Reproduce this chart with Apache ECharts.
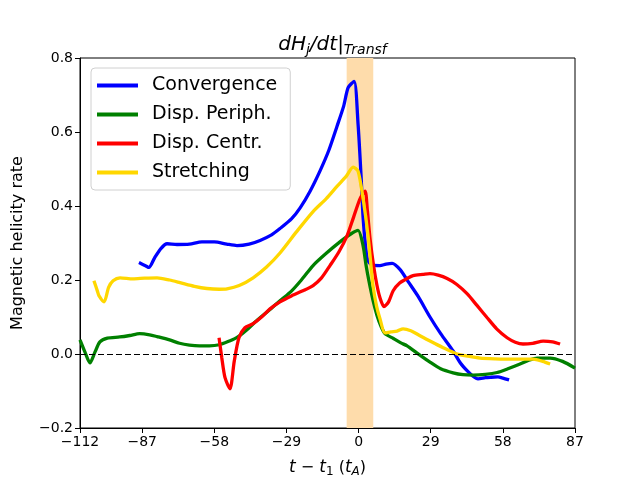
<!DOCTYPE html>
<html>
<head>
<meta charset="utf-8">
<title>dHj/dt Transf</title>
<script src="https://cdn.jsdelivr.net/npm/echarts@6/dist/echarts.min.js"></script>
<style>
  html, body { margin: 0; padding: 0; background: #fff; }
  #chart { width: 640px; height: 480px; }
</style>
</head>
<body>
<div id="chart"></div>
<script>
// tick labels
var xTicks = [-112, -87, -58, -29, 0, 29, 58, 87];
var band = [-4.8, 5.9];

// Convergence
var convT = [-88.3, -85.5, -84.3, -82, -79.5, -77, -73, -68, -63, -58, -53, -48.9, -44, -39.6, -35, -31.6, -27, -23.5, -19.5, -15.5, -12, -8.7, -6, -4.2, -1.8, -0.2, 1.0, 1.8, 2.8, 3.6, 5.5, 8.6, 11, 13.5, 16.7, 20, 24, 28.7, 33, 38, 41, 43.6, 46, 48, 51, 52.9, 56, 58, 60.5];
var convV = [0.247, 0.238, 0.234, 0.26, 0.285, 0.298, 0.296, 0.297, 0.303, 0.303, 0.297, 0.293, 0.297, 0.307, 0.322, 0.339, 0.365, 0.395, 0.44, 0.495, 0.55, 0.615, 0.67, 0.72, 0.737, 0.62, 0.48, 0.37, 0.29, 0.255, 0.24, 0.239, 0.243, 0.245, 0.228, 0.195, 0.155, 0.10, 0.055, 0.008, -0.025, -0.045, -0.06, -0.067, -0.064, -0.063, -0.062, -0.065, -0.07];

// Disp. Periph.
var perT = [-112, -110, -108, -106, -104, -101, -96, -92, -88, -84, -81, -76, -72, -68, -64, -60, -56, -52, -49, -45, -41, -36, -31.6, -27, -23, -18.3, -13, -7.5, -3, -0.2, 1.8, 3, 4.2, 5.8, 7.4, 9, 10.6, 14, 17, 19.5, 23, 28.7, 33, 38, 42, 46, 51, 55.7, 60, 64.9, 68, 71.8, 77, 82, 87];
var perV = [0.038, 0.005, -0.024, 0.005, 0.033, 0.043, 0.046, 0.05, 0.055, 0.052, 0.047, 0.038, 0.029, 0.024, 0.022, 0.022, 0.025, 0.035, 0.044, 0.065, 0.09, 0.118, 0.144, 0.17, 0.2, 0.239, 0.272, 0.303, 0.325, 0.334, 0.293, 0.24, 0.196, 0.145, 0.104, 0.075, 0.055, 0.042, 0.03, 0.022, 0.005, -0.022, -0.04, -0.051, -0.056, -0.057, -0.055, -0.05, -0.04, -0.027, -0.018, -0.011, -0.011, -0.02, -0.038];

// Disp. Centr.
var cenT = [-56.1, -55, -53.7, -51.7, -50, -48.1, -45.7, -42.4, -39, -35.6, -31.6, -27, -22, -18.3, -15, -11.5, -8, -4.6, -2, 0.6, 2.6, 3.5, 4.6, 6, 7.4, 8.6, 10.2, 12, 13.9, 16.5, 19.5, 21.9, 25.9, 28.7, 32, 35.6, 39.5, 43.6, 47.5, 51.7, 55.5, 59.7, 63, 66.1, 70, 74.2, 78, 81];
var cenV = [0.044, -0.01, -0.064, -0.094, -0.02, 0.044, 0.071, 0.082, 0.1, 0.122, 0.141, 0.157, 0.172, 0.185, 0.205, 0.239, 0.275, 0.32, 0.37, 0.42, 0.44, 0.39, 0.312, 0.24, 0.185, 0.152, 0.128, 0.14, 0.171, 0.192, 0.204, 0.212, 0.215, 0.217, 0.213, 0.204, 0.188, 0.163, 0.132, 0.098, 0.068, 0.044, 0.032, 0.027, 0.029, 0.035, 0.033, 0.027];

// Stretching
var strT = [-106.4, -105, -104.4, -102.3, -100.5, -98.7, -95.9, -90.7, -86, -81, -76, -71.8, -66, -61, -56, -52.9, -48, -42.4, -37, -31.6, -25, -18.3, -13, -8.7, -5, -2.2, -0.2, 1.8, 3.8, 5.8, 7.2, 8.6, 10.6, 13, 15.5, 17.9, 21, 24, 28.7, 34, 39.6, 44, 48.8, 55, 62.1, 70.2, 74, 77];
var strV = [0.198, 0.17, 0.158, 0.141, 0.18, 0.198, 0.206, 0.203, 0.205, 0.206, 0.2, 0.193, 0.183, 0.177, 0.175, 0.176, 0.185, 0.206, 0.235, 0.273, 0.33, 0.385, 0.42, 0.453, 0.48, 0.505, 0.494, 0.42, 0.32, 0.185, 0.13, 0.095, 0.057, 0.06, 0.062, 0.068, 0.063, 0.052, 0.035, 0.017, 0.0, -0.006, -0.011, -0.013, -0.014, -0.014, -0.02, -0.027];

function pairs(t, v) {
  return t.map(function (x, i) { return [x, v[i]]; });
}
function minus(s) {
  return String(s).replace('-', '\u2212');
}

var font = 'DejaVu Sans';
var chart = echarts.init(document.getElementById('chart'));

function line(name, color, t, v) {
  return {
    name: name,
    type: 'line',
    data: pairs(t, v),
    showSymbol: false,
    symbol: 'none',
    smooth: 0.25,
    lineStyle: { color: color, width: 3.3 },
    itemStyle: { color: color },
    animation: false
  };
}

var series = [
  line('Convergence', '#0000ff', convT, convV),
  line('Disp. Periph.', '#008000', perT, perV),
  line('Disp. Centr.', '#ff0000', cenT, cenV),
  line('Stretching', '#ffd700', strT, strV)
];
series[0].markArea = {
  silent: true,
  itemStyle: { color: '#fedcab' },
  data: [[{ xAxis: band[0] }, { xAxis: band[1] }]]
};
series[0].markLine = {
  silent: true,
  symbol: 'none',
  label: { show: false },
  lineStyle: { color: '#000', type: [6, 3], width: 1.2 },
  data: [{ yAxis: 0 }]
};

chart.setOption({
  backgroundColor: '#fff',
  animation: false,
  title: {
    text: '{i|dH}{s|j}{i|/dt|}{s|Transf}',
    left: 327.5,
    textAlign: 'center',
    top: 28,
    textStyle: {
      fontWeight: 'normal',
      rich: {
        i: { fontFamily: font, fontStyle: 'italic', fontWeight: 'normal', fontSize: 20, color: '#000' },
        s: { fontFamily: font, fontStyle: 'italic', fontWeight: 'normal', fontSize: 14, color: '#000', verticalAlign: 'bottom', padding: [10, 0, 0, 0] }
      }
    }
  },
  legend: {
    orient: 'vertical',
    left: 91,
    top: 68,
    icon: 'rect',
    itemWidth: 41,
    itemHeight: 4,
    itemGap: 10,
    padding: [8, 13, 8, 6],
    borderColor: '#d0d0d0',
    borderWidth: 1,
    borderRadius: 4,
    backgroundColor: 'rgba(255,255,255,0.85)',
    textStyle: { fontFamily: font, fontSize: 19, color: '#000', padding: [0, 0, 0, 9] },
    data: ['Convergence', 'Disp. Periph.', 'Disp. Centr.', 'Stretching']
  },
  grid: {
    left: 80, right: 65, top: 58, bottom: 52,
    containLabel: false,
    outerBoundsMode: 'none',
    show: true, borderColor: '#000', borderWidth: 1
  },
  xAxis: {
    type: 'value',
    min: -112,
    max: 87,
    name: '{i|t} \u2212 {i|t}{s|1} ({i|t}{a|A})',
    nameLocation: 'middle',
    nameGap: 30,
    nameTextStyle: {
      fontFamily: font, fontSize: 16, color: '#000',
      rich: {
        i: { fontFamily: font, fontStyle: 'italic', fontSize: 17, color: '#000' },
        s: { fontFamily: font, fontSize: 12, color: '#000', verticalAlign: 'bottom', padding: [8, 0, 0, 0] },
        a: { fontFamily: font, fontStyle: 'italic', fontSize: 12, color: '#000', verticalAlign: 'bottom', padding: [8, 0, 0, 0] }
      }
    },
    axisLine: { onZero: false, lineStyle: { color: '#000' } },
    axisTick: { customValues: xTicks, length: 5, lineStyle: { color: '#000' } },
    axisLabel: {
      customValues: xTicks,
      fontFamily: font, fontSize: 14, color: '#000', margin: 7,
      formatter: function (v) { return minus(v); }
    },
    splitLine: { show: false }
  },
  yAxis: {
    type: 'value',
    min: -0.2,
    max: 0.8,
    interval: 0.2,
    name: 'Magnetic helicity rate',
    nameLocation: 'middle',
    nameGap: 54,
    nameTextStyle: { fontFamily: font, fontSize: 16, color: '#000' },
    axisLine: { show: true, onZero: false, lineStyle: { color: '#000' } },
    axisTick: { show: true, length: 5, lineStyle: { color: '#000' } },
    axisLabel: {
      fontFamily: font, fontSize: 14, color: '#000', margin: 7,
      formatter: function (v) { return minus(v.toFixed(1)); }
    },
    splitLine: { show: false }
  },
  series: series
});
</script>
</body>
</html>
